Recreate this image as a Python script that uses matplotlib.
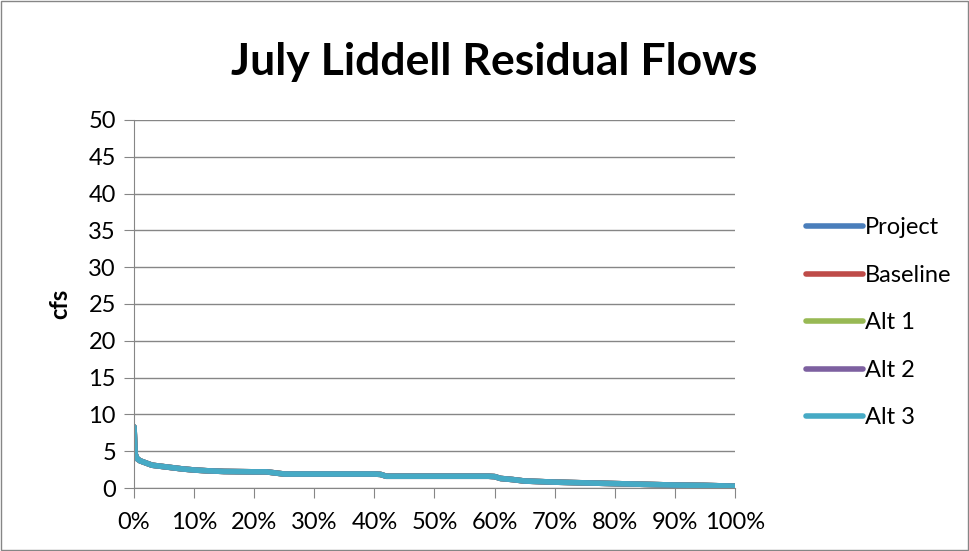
import matplotlib
matplotlib.use("Agg")
from matplotlib import pyplot as plt
from matplotlib.ticker import PercentFormatter

plt.rcParams['font.family'] = ['Lato', 'DejaVu Sans']

# exceedance probability (fraction) and flow (cfs)
exceed = [0.0, 0.002, 0.005, 0.01, 0.02, 0.03, 0.05, 0.08, 0.10, 0.12, 0.15, 0.20, 0.22,
          0.24, 0.25, 0.30, 0.35, 0.40, 0.41, 0.42, 0.45, 0.50, 0.55, 0.59, 0.60,
          0.61, 0.63, 0.65, 0.70, 0.75, 0.80, 0.85, 0.90, 0.95, 1.0]
flow = [8.3, 4.6, 4.0, 3.7, 3.4, 3.1, 2.9, 2.6, 2.45, 2.35, 2.25, 2.2, 2.2,
        2.0, 1.9, 1.9, 1.9, 1.9, 1.85, 1.6, 1.6, 1.6, 1.6, 1.6, 1.55,
        1.3, 1.15, 0.95, 0.8, 0.7, 0.6, 0.5, 0.4, 0.35, 0.25]

project = flow
baseline = flow
alt1 = flow
alt2 = flow
alt3 = flow

names = ["Project", "Baseline", "Alt 1", "Alt 2", "Alt 3"]
colors = ["#4a7ebb", "#be4b48", "#98b954", "#7d60a0", "#46aac5"]
series = [project, baseline, alt1, alt2, alt3]

fig = plt.figure(figsize=(9.69, 5.51), dpi=100)
ax = fig.add_axes([0.1383, 0.1143, 0.6202, 0.668])

for name, c, s in zip(names, colors, series):
    ax.plot(exceed, s, color=c, linewidth=4, label=name, solid_capstyle='round')

ax.set_xlim(0, 1)
ax.set_ylim(0, 50)
ax.set_yticks(range(0, 51, 5))
ax.set_xticks([i / 10 for i in range(11)])
ax.xaxis.set_major_formatter(PercentFormatter(1.0, decimals=0))
ax.grid(axis='y', color='#868686', linewidth=1)
ax.set_axisbelow(True)
for side in ['top', 'right']:
    ax.spines[side].set_visible(False)
for side in ['left', 'bottom']:
    ax.spines[side].set_color('#868686')
ax.tick_params(axis='both', colors='#868686', labelcolor='black', labelsize=17, length=7)
ax.tick_params(axis='y', pad=6)
ax.tick_params(axis='x', pad=10)
ax.set_ylabel("cfs", fontsize=17, fontweight='bold', labelpad=12)

fig.text(0.51, 0.887, "July Liddell Residual Flows", ha='center', va='center',
         fontsize=32, fontweight='bold')

fig.legend(loc='center left', bbox_to_anchor=(0.81, 0.414), frameon=False,
           fontsize=17, handlelength=2.4, handletextpad=0.1, labelspacing=1.12)

border = plt.Rectangle((0.001, 0.001), 0.998, 0.997, transform=fig.transFigure,
                       fill=False, edgecolor='#868686', linewidth=1)
fig.patches.append(border)

fig.savefig("out.png", dpi=100)
